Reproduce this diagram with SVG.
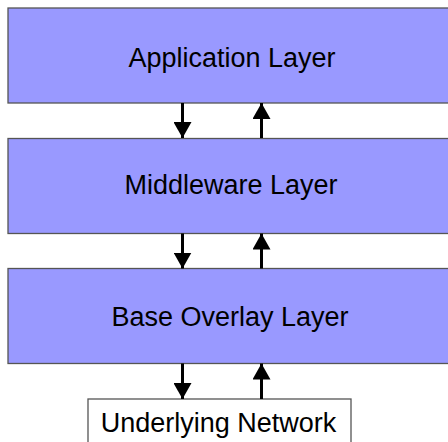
<svg xmlns="http://www.w3.org/2000/svg" width="448" height="442" viewBox="0 0 448 442">
<defs>
<style>
.layer{fill:#9999ff;stroke:#555;stroke-width:1.3}
.net{fill:#fff;stroke:#555;stroke-width:1.3}
.lbl{font-family:"Liberation Sans",Arial,sans-serif;font-size:27px;fill:#000;text-anchor:middle}
.conn{stroke:#000;stroke-width:3;fill:none}
</style>
<marker id="ah" viewBox="0 0 16 18" refX="16" refY="9" markerWidth="16" markerHeight="18" markerUnits="userSpaceOnUse" orient="auto">
<path d="M0,0 L16,9 L0,18 z" fill="#000"/>
</marker>
</defs>
<g id="application">
<rect class="layer" x="8" y="8" width="460" height="95"/>
<text class="lbl" x="232" y="67">Application Layer</text>
</g>
<g id="middleware">
<rect class="layer" x="8" y="138.5" width="460" height="95"/>
<text class="lbl" x="231" y="193.5">Middleware Layer</text>
</g>
<g id="base-overlay">
<rect class="layer" x="8" y="268.5" width="460" height="95"/>
<text class="lbl" x="230" y="326">Base Overlay Layer</text>
</g>
<g id="underlying">
<rect class="net" x="88" y="399" width="263" height="60"/>
<text class="lbl" x="218.5" y="431.5">Underlying Network</text>
</g>
<g id="connectors">
<line class="conn" x1="182.5" y1="103" x2="182.5" y2="138" marker-end="url(#ah)"/>
<line class="conn" x1="261.5" y1="138" x2="261.5" y2="103" marker-end="url(#ah)"/>
<line class="conn" x1="182.5" y1="233.5" x2="182.5" y2="268.5" marker-end="url(#ah)"/>
<line class="conn" x1="261.5" y1="268.5" x2="261.5" y2="233.5" marker-end="url(#ah)"/>
<line class="conn" x1="182.5" y1="363.5" x2="182.5" y2="399" marker-end="url(#ah)"/>
<line class="conn" x1="261.5" y1="399" x2="261.5" y2="363.5" marker-end="url(#ah)"/>
</g>
</svg>
